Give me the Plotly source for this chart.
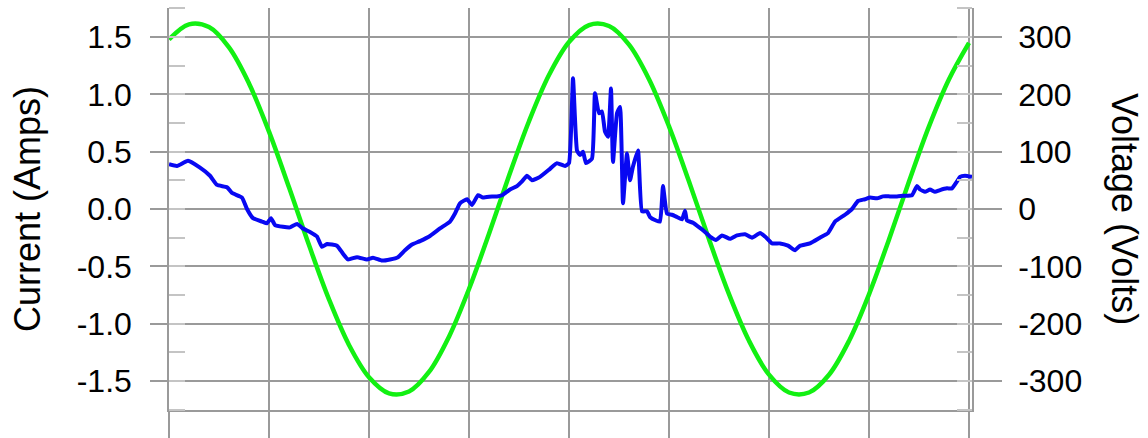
import plotly.graph_objects as go

# ---- data (time in grid divisions, 0..8) ----
volt_t = [round(0.2 * k, 1) for k in range(41)]
volt_v = [295.6, 322.1, 317.3, 281.8, 219.0, 135.0, 37.9, -62.9, -157.6, -237.1,
          -293.4, -321.5, -318.3, -284.3, -222.7, -139.6, -43.0, 57.9, 153.1, 233.7,
          291.2, 320.8, 319.2, 286.7, 226.4, 144.2, 48.0, -52.9, -148.6, -229.9,
          -289.0, -320.1, -320.1, -289.1, -230.1, -148.8, -53.0, 47.8, 144.1, 226.3,
          289.7]

cur_px = [169, 177, 188, 200, 210, 217, 227, 232, 242, 247, 253, 262, 267, 271, 275,
          283, 290, 297, 303, 310, 317, 322, 327, 337, 343, 348, 357, 367, 373, 382,
          390, 398, 405, 412, 420, 430, 440, 450, 455, 460, 467, 472, 478, 483, 492,
          497, 502, 510, 517, 522, 527, 532, 540, 550, 557, 565, 569, 573, 577, 580,
          583, 586, 592, 595, 599, 602, 605, 608, 611, 613, 617, 620, 623, 627, 630,
          633, 638, 642, 647, 650, 656, 660, 663, 667, 672, 677, 682, 685, 687, 693,
          700, 705, 710, 716, 722, 730, 737, 745, 752, 760, 765, 772, 780, 788, 795,
          800, 810, 820, 828, 835, 845, 852, 858, 865, 870, 877, 883, 890, 897, 903,
          912, 917, 920, 925, 930, 935, 940, 947, 952, 957, 960, 965, 972]
cur_a = [0.39, 0.375, 0.42, 0.36, 0.29, 0.21, 0.19, 0.14, 0.10, 0.00, -0.08, -0.11, -0.125, -0.08, -0.14,
         -0.155, -0.16, -0.13, -0.17, -0.20, -0.24, -0.33, -0.305, -0.32, -0.39, -0.44, -0.42, -0.44, -0.425, -0.45,
         -0.44, -0.42, -0.36, -0.31, -0.28, -0.235, -0.17, -0.11, -0.04, 0.05, 0.085, 0.035, 0.12, 0.10, 0.11,
         0.11, 0.12, 0.17, 0.20, 0.24, 0.29, 0.25, 0.28, 0.35, 0.40, 0.375, 0.40, 1.14, 0.51, 0.47,
         0.50, 0.40, 0.44, 1.01, 0.835, 0.85, 0.675, 0.63, 1.05, 0.41, 0.835, 0.89, 0.05, 0.485, 0.25,
         0.37, 0.51, -0.02, -0.02, -0.07, -0.10, -0.11, 0.20, -0.04, -0.05, -0.07, -0.09, -0.015, -0.10, -0.12,
         -0.165, -0.20, -0.24, -0.27, -0.23, -0.26, -0.23, -0.22, -0.25, -0.21, -0.24, -0.30, -0.30, -0.32, -0.36,
         -0.32, -0.30, -0.25, -0.21, -0.11, -0.05, 0.00, 0.07, 0.085, 0.10, 0.093, 0.11, 0.11, 0.11, 0.115,
         0.12, 0.20, 0.17, 0.15, 0.17, 0.15, 0.165, 0.18, 0.18, 0.24, 0.28, 0.29, 0.28]
cur_t = [round((p - 169) / 100.0, 3) for p in cur_px]

cur_ticks = [-1.5, -1.0, -0.5, 0.0, 0.5, 1.0, 1.5]
cur_labels = ["-1.5", "-1.0", "-0.5", "0.0", "0.5", "1.0", "1.5"]
volt_ticks = [-300, -200, -100, 0, 100, 200, 300]
volt_labels = ["-300", "-200", "-100", "0", "100", "200", "300"]
x_ticks = [0, 1, 2, 3, 4, 5, 6, 7, 8]

GRID = "#9a9a9a"
MINOR = "#c4c4c4"
FONT = "Liberation Sans, Arial, sans-serif"

fig = go.Figure()
fig.add_trace(go.Scatter(x=volt_t, y=volt_v, mode="lines", yaxis="y",
                         line=dict(color="#12f012", width=4.5, shape="spline"),
                         showlegend=False, hoverinfo="skip"))
fig.add_trace(go.Scatter(x=cur_t, y=cur_a, mode="lines", yaxis="y2",
                         line=dict(color="#0808f2", width=4, shape="spline", smoothing=0.4),
                         showlegend=False, hoverinfo="skip"))

fig.update_layout(
    width=1148, height=438,
    margin=dict(l=169, r=176, t=8, b=28, autoexpand=False),
    paper_bgcolor="white", plot_bgcolor="white",
    font=dict(family=FONT, size=32, color="black"),
    xaxis=dict(range=[0, 8.03], tickvals=x_ticks, showticklabels=False,
               showgrid=True, gridcolor=GRID, gridwidth=1.5,
               showline=True, linecolor=GRID, linewidth=1.5,
               ticks="outside", ticklen=30, tickcolor=GRID, tickwidth=1.5,
               zeroline=False, automargin=False),
    yaxis=dict(range=[-350.6, 350.6], side="right",
               tickvals=volt_ticks, ticktext=volt_labels,
               showgrid=True, gridcolor=GRID, gridwidth=1.5,
               showline=True, linecolor=GRID, linewidth=1.5,
               ticks="outside", ticklen=28, tickcolor=GRID, tickwidth=1.5,
               minor=dict(ticks="inside", ticklen=15, tickcolor=MINOR, tickwidth=1.5,
                          dtick=50, tick0=0, showgrid=False),
               ticklabelstandoff=10,
               zeroline=False, automargin=False),
    yaxis2=dict(range=[-1.753, 1.753], side="left", overlaying="y",
                tickvals=cur_ticks, ticktext=cur_labels,
                showgrid=False,
                showline=True, linecolor=GRID, linewidth=1.5,
                ticks="outside", ticklen=17, tickcolor=GRID, tickwidth=1.5,
                minor=dict(ticks="inside", ticklen=16, tickcolor=MINOR, tickwidth=1.5,
                           dtick=0.25, tick0=0, showgrid=False),
                ticklabelstandoff=12,
                zeroline=False, automargin=False),
    annotations=[
        dict(text="Current (Amps)", xref="paper", yref="paper",
             x=(27 - 169) / 803.0, y=0.5, xanchor="center", yanchor="middle",
             textangle=-90, showarrow=False, font=dict(family=FONT, size=36)),
        dict(text="Voltage (Volts)", xref="paper", yref="paper",
             x=(1125 - 169) / 803.0, y=0.5, xanchor="center", yanchor="middle",
             textangle=90, showarrow=False, font=dict(family=FONT, size=36)),
    ],
)

fig.write_html("out.html", config={"displayModeBar": False},
               post_script="document.body.style.margin='0';")
